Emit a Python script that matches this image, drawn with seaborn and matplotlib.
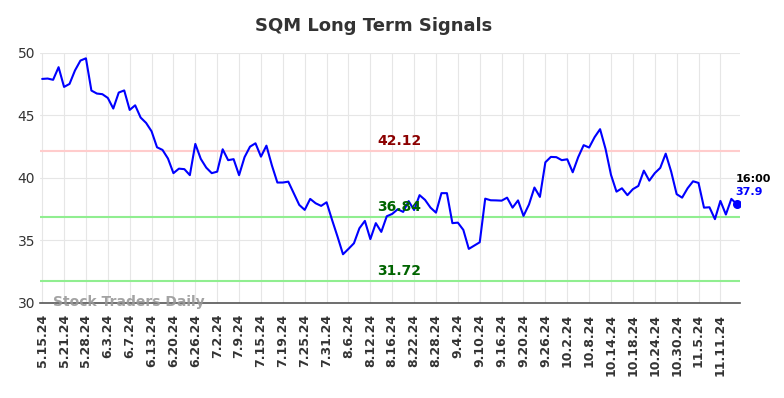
import numpy as np
import pandas as pd
import matplotlib
matplotlib.use("Agg")
import matplotlib.pyplot as plt
import seaborn as sns

# closing prices, one per trading day
prices = [
    47.92, 47.95, 47.85, 48.86, 47.28, 47.52, 48.60, 49.39, 49.57, 46.99,
    46.75, 46.70, 46.40, 45.55, 46.83, 47.00, 45.44, 45.81, 44.83, 44.40,
    43.73, 42.45, 42.24, 41.55, 40.38, 40.74, 40.70, 40.22, 42.72, 41.52,
    40.82, 40.38, 40.50, 42.29, 41.42, 41.50, 40.22, 41.66, 42.50, 42.77,
    41.70, 42.58, 41.00, 39.63, 39.63, 39.70, 38.78, 37.84, 37.44, 38.32,
    37.97, 37.76, 38.05, 36.64, 35.30, 33.89, 34.32, 34.77, 35.97, 36.56,
    35.10, 36.38, 35.68, 36.93, 37.12, 37.49, 37.28, 38.14, 37.43, 38.62,
    38.24, 37.62, 37.22, 38.78, 38.78, 36.38, 36.42, 35.84, 34.32, 34.58,
    34.85, 38.34, 38.21, 38.20, 38.18, 38.42, 37.62, 38.20, 36.96, 37.87,
    39.23, 38.48, 41.25, 41.68, 41.66, 41.42, 41.49, 40.45, 41.66, 42.62,
    42.43, 43.26, 43.90, 42.32, 40.24, 38.90, 39.17, 38.62, 39.10, 39.36,
    40.58, 39.78, 40.38, 40.80, 41.94, 40.50, 38.70, 38.42, 39.17, 39.73,
    39.60, 37.62, 37.65, 36.70, 38.16, 37.07, 38.32, 37.90,
]

tick_labels = [
    "5.15.24", "5.21.24", "5.28.24", "6.3.24", "6.7.24", "6.13.24", "6.20.24",
    "6.26.24", "7.2.24", "7.9.24", "7.15.24", "7.19.24", "7.25.24", "7.31.24",
    "8.6.24", "8.12.24", "8.16.24", "8.22.24", "8.28.24", "9.4.24", "9.10.24",
    "9.16.24", "9.20.24", "9.26.24", "10.2.24", "10.8.24", "10.14.24",
    "10.18.24", "10.24.24", "10.30.24", "11.5.24", "11.11.24",
]
tick_step = 4

resistance = 42.12
supports = [36.84, 31.72]
last_time = "16:00"

df = pd.DataFrame({"day": np.arange(len(prices)), "price": prices})

sns.set_style("whitegrid", {"grid.color": "#e6e6e6", "axes.edgecolor": "#555555"})
plt.rcParams["font.family"] = ["DejaVu Sans"]

fig = plt.figure(figsize=(7.84, 3.98), dpi=100)
ax = fig.add_axes([0.051, 0.239, 0.893, 0.628])

ax.axhline(resistance, color="#ffcccc", lw=1.5, zorder=1)
for s in supports:
    ax.axhline(s, color="#90ee90", lw=1.5, zorder=1)

sns.lineplot(data=df, x="day", y="price", color="#0000ff", lw=1.5, ax=ax, zorder=3)

last = df.iloc[-1]
ax.scatter([last["day"]], [last["price"]], color="#0000ff", s=30, zorder=4)

# signal labels sit a little right of the middle, as in the reference
label_x = 65.3
ax.text(label_x, resistance + 0.25, f"{resistance:.2f}", color="#8b0000",
        fontsize=10, fontweight="bold", ha="center", va="bottom")
for s in supports:
    ax.text(label_x, s + 0.25, f"{s:.2f}", color="#006400",
            fontsize=10, fontweight="bold", ha="center", va="bottom")

ax.text(last["day"] - 0.2, last["price"] + 1.65, last_time, color="black",
        fontsize=8, fontweight="bold", ha="left", va="bottom")
ax.text(last["day"] - 0.2, last["price"] + 0.6, f"{last['price']:.1f}", color="#0000ff",
        fontsize=8, fontweight="bold", ha="left", va="bottom")

ax.text(2.0, 30.05, "Stock Traders Daily", color="#999999", fontsize=10,
        fontweight="bold", ha="left", va="center", alpha=0.9)

ax.set_xlim(-0.4, len(prices) - 0.4)
ax.set_ylim(30, 50)
ax.set_yticks([30, 35, 40, 45, 50])
ax.set_xticks(np.arange(len(tick_labels)) * tick_step)
ax.set_xticklabels(tick_labels, rotation=90, fontsize=9, fontweight="bold", color="#333333")
ax.tick_params(axis="y", labelsize=10, labelcolor="#333333", length=0)
ax.tick_params(axis="x", length=0, pad=8)
ax.set_xlabel("")
ax.set_ylabel("")

for side in ["left", "right", "top"]:
    ax.spines[side].set_visible(False)
ax.spines["bottom"].set_color("#555555")
ax.spines["bottom"].set_linewidth(1.2)

fig.text(0.477, 0.935, "SQM Long Term Signals", fontsize=13, fontweight="bold",
         color="#333333", ha="center", va="center")

fig.savefig("out.png", dpi=100)
